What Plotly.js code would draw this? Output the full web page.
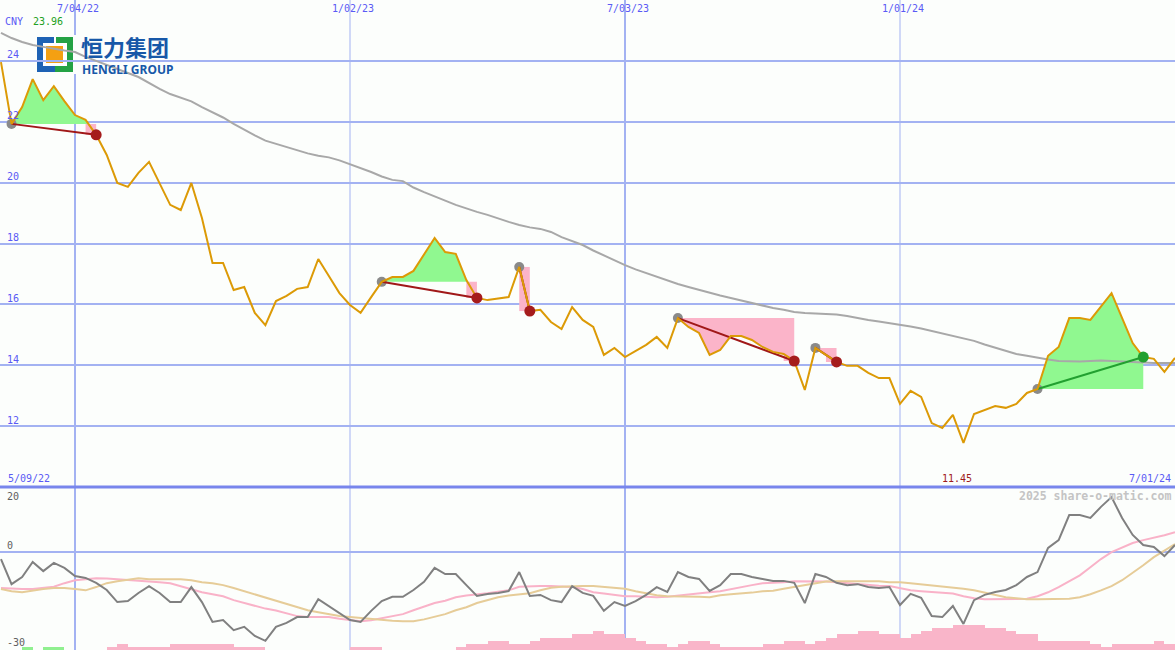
<!DOCTYPE html>
<html><head><meta charset="utf-8">
<script src="https://cdn.plot.ly/plotly-3.0.1.min.js"></script>
<style>html,body{margin:0;padding:0;background:#fcfefc;} #chart{width:1175px;height:650px;}</style>
</head><body><div id="chart"></div>
<script>
// ---------- data ----------
const currency = 'CNY';
const firstWeek = '2022-05-16';           // weekly closes, one per Monday
const prices = [23.96, 21.93, 22.48, 23.40, 22.71, 23.17, 22.68, 22.22, 22.06, 21.57,
 20.91, 19.99, 19.86, 20.32, 20.68, 19.96, 19.27, 19.10, 19.99, 18.84,
 17.36, 17.36, 16.47, 16.57, 15.72, 15.32, 16.11, 16.28, 16.51, 16.57,
 17.49, 16.93, 16.37, 15.98, 15.72, 16.24, 16.74, 16.90, 16.90, 17.10,
 17.62, 18.18, 17.72, 17.66, 16.80, 16.21, 16.14, 16.18, 16.24, 17.23,
 15.78, 15.82, 15.42, 15.19, 15.91, 15.49, 15.26, 14.34, 14.57, 14.27,
 14.47, 14.67, 14.93, 14.57, 15.55, 15.26, 15.06, 14.34, 14.50, 14.96,
 14.96, 14.83, 14.60, 14.44, 14.37, 14.14, 13.19, 14.57, 14.34, 14.11,
 13.98, 13.98, 13.75, 13.58, 13.58, 12.73, 13.16, 12.96, 12.10, 11.94,
 12.37, 11.45, 12.40, 12.53, 12.66, 12.60, 12.73, 13.09, 13.22, 14.31,
 14.60, 15.55, 15.55, 15.49, 15.95, 16.37, 15.55, 14.73, 14.27, 14.21,
 13.78, 14.24];
const movingAverage = [24.92, 24.75, 24.62, 24.52, 24.46, 24.39, 24.34, 24.29, 24.13, 24.00,
 23.86, 23.73, 23.60, 23.47, 23.27, 23.08, 22.91, 22.78, 22.67, 22.48,
 22.32, 22.14, 21.93, 21.73, 21.55, 21.38, 21.27, 21.17, 21.07, 20.96,
 20.88, 20.83, 20.73, 20.61, 20.48, 20.35, 20.20, 20.09, 20.05, 19.84,
 19.69, 19.56, 19.41, 19.27, 19.15, 19.04, 18.94, 18.82, 18.71, 18.61,
 18.53, 18.48, 18.38, 18.21, 18.08, 17.95, 17.77, 17.61, 17.44, 17.29,
 17.15, 17.03, 16.90, 16.79, 16.67, 16.57, 16.47, 16.39, 16.29, 16.21,
 16.13, 16.03, 15.95, 15.88, 15.82, 15.75, 15.72, 15.70, 15.68, 15.67,
 15.62, 15.55, 15.49, 15.44, 15.39, 15.32, 15.27, 15.21, 15.13, 15.04,
 14.96, 14.88, 14.80, 14.68, 14.57, 14.47, 14.37, 14.31, 14.24, 14.19,
 14.14, 14.12, 14.12, 14.14, 14.16, 14.14, 14.12, 14.11, 14.09, 14.07,
 14.07, 14.07];
const oscillator = [-2.1, -9.8, -7.6, -3.0, -5.8, -3.3, -4.8, -7.3, -7.9, -9.4,
 -11.6, -15.3, -15.0, -12.5, -10.4, -12.5, -15.3, -15.3, -10.7, -15.3,
 -21.4, -20.8, -23.9, -22.9, -25.7, -27.2, -22.9, -21.7, -19.9, -19.9,
 -14.4, -16.5, -18.7, -20.8, -21.4, -18.0, -15.0, -13.7, -13.7, -11.6,
 -9.1, -4.8, -6.7, -6.7, -10.1, -13.4, -12.8, -12.5, -11.9, -6.1,
 -13.4, -13.1, -14.7, -15.3, -10.4, -12.5, -13.4, -18.0, -15.3, -16.5,
 -15.0, -13.1, -10.7, -12.2, -6.1, -7.6, -8.2, -11.9, -10.1, -6.7,
 -6.7, -7.6, -8.2, -8.8, -8.8, -9.4, -15.6, -6.7, -7.6, -9.4,
 -10.1, -9.8, -10.7, -11.0, -10.7, -16.2, -12.8, -14.0, -19.6, -19.9,
 -16.5, -22.0, -14.7, -13.1, -12.2, -11.6, -10.1, -7.6, -6.1, 1.3,
 3.7, 11.4, 11.4, 10.5, 13.9, 16.9, 10.5, 5.3, 2.2, 1.6,
 -1.2, 2.2];
const oscFast = [-11.0, -11.2, -11.3, -11.3, -11.0, -10.6, -9.5, -8.6, -8.3, -8.0,
 -8.1, -8.3, -8.6, -8.6, -8.9, -9.2, -9.5, -10.4, -11.3, -12.3,
 -12.9, -13.5, -14.7, -15.6, -16.6, -17.3, -17.9, -18.7, -19.6, -19.9,
 -19.9, -19.9, -20.4, -20.9, -21.2, -20.9, -20.2, -19.6, -19.0, -17.8,
 -16.7, -15.6, -14.9, -13.8, -13.3, -13.0, -12.6, -12.1, -11.7, -10.6,
 -10.4, -10.4, -10.4, -10.6, -10.7, -11.3, -12.3, -12.7, -13.2, -13.5,
 -13.5, -13.7, -13.8, -13.7, -13.3, -13.0, -12.6, -12.3, -12.0, -11.3,
 -10.7, -10.1, -9.5, -9.4, -9.2, -8.9, -8.9, -8.9, -9.0, -9.2,
 -9.5, -9.8, -10.1, -10.3, -10.4, -11.0, -11.7, -12.0, -12.3, -12.4,
 -12.7, -13.5, -14.1, -14.4, -14.4, -14.4, -14.4, -14.3, -13.5, -12.3,
 -10.7, -8.9, -7.1, -4.6, -2.1, 0.0, 1.5, 2.8, 3.7, 4.4,
 5.2, 6.1];
const oscSlow = [-11.3, -12.0, -12.3, -11.7, -11.3, -11.0, -11.0, -11.3, -11.7, -10.7,
 -9.5, -8.9, -8.4, -8.0, -8.3, -8.3, -8.3, -8.3, -8.6, -9.2,
 -9.5, -10.1, -11.0, -12.0, -12.9, -13.8, -14.9, -16.0, -16.9, -17.8,
 -18.4, -19.0, -19.6, -19.9, -20.2, -20.6, -20.7, -21.0, -21.2, -21.2,
 -20.6, -19.9, -19.0, -17.8, -16.9, -15.6, -14.6, -13.8, -13.3, -13.0,
 -12.6, -11.7, -10.9, -10.6, -10.4, -10.4, -10.4, -10.6, -10.9, -11.2,
 -12.0, -12.7, -13.2, -13.5, -13.5, -13.5, -13.7, -13.8, -13.2, -12.9,
 -12.7, -12.4, -12.0, -11.8, -11.2, -10.6, -10.0, -9.4, -9.0, -8.9,
 -8.9, -8.9, -8.9, -8.9, -9.2, -9.2, -9.5, -9.8, -10.1, -10.4,
 -10.7, -11.2, -11.7, -12.4, -13.2, -13.8, -14.1, -14.4, -14.4, -14.4,
 -14.4, -14.3, -13.8, -12.9, -11.7, -10.4, -8.6, -6.4, -4.0, -1.5,
 0.6, 2.5];
const volume = [0,0,1,0,1,1,0,0,0,0, 1,2,1,1,1,1,2,2,2,2, 2,2,1,1,1,0,0,0,0,0,
 0,0,0,1,1,1,0,0,0,0, 0,0,0,1,2,2,3,3,2,2, 3,4,4,4,5,5,6,5,5,4,
 3,2,2,1,2,3,3,2,1,1, 1,1,2,2,3,3,2,3,4,5, 5,6,6,5,5,4,5,6,7,7,
 8,8,8,7,7,6,5,5,3,3, 3,3,3,2,1,2,2,2,2,3, 2,0];
const greenVolumeWeeks = [2, 4, 5];
// trades: [entry week index, exit week index]
const trades = [[1,9],[36,45],[49,50],[64,75],[77,79],[98,108]];
const tickDates = ['2022-07-04','2023-01-02','2023-07-03','2024-01-01'];
const tickLabels = ['7/04/22','1/02/23','7/03/23','1/01/24'];
const tickWidths = [2,1,2,1];
const periodStart = '5/09/22', periodEnd = '7/01/24';
const priceTicks = [12,14,16,18,20,22,24];
const oscTicks = [20,0,-30];

// ---------- helpers ----------
const WEEK = 7*864e5;
const base = Date.parse(firstWeek + 'T00:00:00Z');
function fmt(ms){const d=new Date(ms);const p=n=>String(n).padStart(2,'0');
 return d.getUTCFullYear()+'-'+p(d.getUTCMonth()+1)+'-'+p(d.getUTCDate())+' '+p(d.getUTCHours())+':'+p(d.getUTCMinutes())+':'+p(d.getUTCSeconds());}
const tms = k => base + k*WEEK;
const dates = prices.map((_,k)=>fmt(tms(k)));

const W=1175,H=650, split=487;
const px = x=>x/W, py = y=>1-y/H;
const mainDom=[1-split/H,1];
const xRange=['2022-05-15 08:40:00','2024-07-01 00:00:00'];
const yRange=[10,26];
const x0ms=Date.parse(xRange[0].replace(' ','T')+'Z'), x1ms=Date.parse(xRange[1].replace(' ','T')+'Z');
const pxDate = x=>fmt(x0ms+(x1ms-x0ms)*x/W);
const pxPrice = y=>yRange[1]-(yRange[1]-yRange[0])*y/split;

const BLUE='#5a5af5', GRID='#a3b2f2', ORANGE='#dc9a06';
const traces=[];

// volume bars (bottom)
traces.push({type:'bar', x:dates, y:volume, xaxis:'x', yaxis:'y3', offset:0, width:WEEK,
  marker:{color:volume.map((v,k)=>greenVolumeWeeks.includes(k)?'#90f090':'#f9b5c9'), line:{width:0}},
  hoverinfo:'skip', showlegend:false});
// oscillator panel
traces.push({x:dates,y:oscFast,yaxis:'y2',mode:'lines',line:{color:'#f9b2c8',width:2},hoverinfo:'skip'});
traces.push({x:dates,y:oscSlow,yaxis:'y2',mode:'lines',line:{color:'#e6cc98',width:2},hoverinfo:'skip'});
traces.push({x:dates,y:oscillator,yaxis:'y2',mode:'lines',line:{color:'#808080',width:2},hoverinfo:'skip'});

// trade fills
trades.forEach(([s,e])=>{
  const L=prices[s];
  const gx=[tms(s)],gy=[L],qx=[tms(s)],qy=[L];
  for(let k=s;k<=e;k++){
    if(k>s){const a=prices[k-1]-L,b=prices[k]-L;
      if(a*b<0){const t=a/(a-b);const xm=tms(k-1)+t*WEEK;gx.push(xm);gy.push(L);if(k<e||prices[e]>=L){qx.push(xm);qy.push(L);}}}
    gx.push(tms(k));gy.push(Math.max(prices[k],L));
    if(k<e || prices[e]>=L){qx.push(tms(k));qy.push(Math.min(prices[k],L));}
  }
  if(prices[e]<L){const pe=prices[e];qx.push(tms(e-1));qy.push(pe);qx.push(tms(e));qy.push(pe);}
  gx.push(tms(e));gy.push(L);qx.push(tms(e));qy.push(L);
  traces.push({x:gx.map(fmt),y:gy,mode:'lines',line:{width:0,color:'rgba(0,0,0,0)'},fill:'toself',fillcolor:'#90f890',hoverinfo:'skip'});
  traces.push({x:qx.map(fmt),y:qy,mode:'lines',line:{width:0,color:'rgba(0,0,0,0)'},fill:'toself',fillcolor:'#fbb4c9',hoverinfo:'skip'});
});
// moving average
traces.push({x:dates,y:movingAverage,mode:'lines',line:{color:'#a8a8a8',width:2},hoverinfo:'skip'});
// entry dots
traces.push({x:trades.map(t=>dates[t[0]]),y:trades.map(t=>prices[t[0]]),mode:'markers',marker:{color:'#8a8a8a',size:10},hoverinfo:'skip'});
// trade lines
trades.forEach(([s,e])=>{
  const win=prices[e]>prices[s];
  traces.push({x:[dates[s],dates[e]],y:[prices[s],prices[e]],mode:'lines',line:{color:win?'#22a030':'#a01818',width:2},hoverinfo:'skip'});
});
// price line
traces.push({x:dates,y:prices,mode:'lines',line:{color:ORANGE,width:2},hoverinfo:'skip'});
// exit dots
traces.push({x:trades.map(t=>dates[t[1]]),y:trades.map(t=>prices[t[1]]),mode:'markers',
  marker:{color:trades.map(t=>prices[t[1]]>prices[t[0]]?'#22a030':'#a51c1c'),size:11},hoverinfo:'skip'});

// ---------- shapes ----------
const shapes=[];
tickDates.forEach((d,i)=>shapes.push({type:'line',xref:'x',yref:'paper',x0:d,x1:d,y0:0,y1:1,line:{color:GRID,width:tickWidths[i]},layer:'below'}));
shapes.push({type:'line',xref:'paper',yref:'paper',x0:0,x1:1,y0:py(split),y1:py(split),line:{color:'#7886ec',width:3}});
// logo (subplot shapes, below the traces)
const rect=(x0,y0,x1,y1,c)=>({type:'rect',xref:'x',yref:'y',x0:pxDate(x0),x1:pxDate(x1),y0:pxPrice(y1),y1:pxPrice(y0),fillcolor:c,line:{width:0},layer:'below'});
shapes.push(rect(35,35,190,74,'#fcfefc'));
shapes.push(rect(37,37,55,72,'#1e62b4'));
shapes.push(rect(55,37,73,72,'#24a244'));
shapes.push(rect(43,43,67,66,'#ffffff'));
shapes.push(rect(54,37,56,43,'#ffffff'));
shapes.push(rect(46,46,63,63,'#f4a012'));

// ---------- annotations ----------
const F = (c,s)=>({family:'DejaVu Sans Mono, monospace',size:s||10,color:c});
const ann=[];
tickDates.forEach((d,i)=>ann.push({x:d,xref:'x',y:1,yref:'paper',yanchor:'middle',xanchor:'center',yshift:-8,xshift:3,text:tickLabels[i],showarrow:false,font:F(BLUE)}));
ann.push({x:0,xref:'paper',xanchor:'left',xshift:3,y:1,yref:'paper',yanchor:'middle',yshift:-21,text:currency,showarrow:false,font:F(BLUE)});
ann.push({x:0,xref:'paper',xanchor:'left',xshift:31,y:1,yref:'paper',yanchor:'middle',yshift:-21,text:Math.max(...prices).toFixed(2),showarrow:false,font:F('#22a022')});
priceTicks.forEach(v=>ann.push({x:0,xref:'paper',xanchor:'left',xshift:5,y:v,yref:'y',yanchor:'middle',yshift:6,text:String(v),showarrow:false,font:F(BLUE)}));
ann.push({x:0,xref:'paper',xanchor:'left',xshift:5,y:20,yref:'y2',yanchor:'middle',yshift:-9,text:String(oscTicks[0]),showarrow:false,font:F('#606060')});
ann.push({x:0,xref:'paper',xanchor:'left',xshift:5,y:0,yref:'y2',yanchor:'middle',yshift:7,text:String(oscTicks[1]),showarrow:false,font:F('#606060')});
ann.push({x:0,xref:'paper',xanchor:'left',xshift:5,y:-30,yref:'y2',yanchor:'middle',yshift:8,text:String(oscTicks[2]),showarrow:false,font:F('#606060')});
ann.push({x:0,xref:'paper',xanchor:'left',xshift:6,y:py(split),yref:'paper',yanchor:'middle',yshift:9,text:periodStart,showarrow:false,font:F(BLUE)});
ann.push({x:1,xref:'paper',xanchor:'right',xshift:-2,y:py(split),yref:'paper',yanchor:'middle',yshift:9,text:periodEnd,showarrow:false,font:F(BLUE)});
const minIdx = prices.indexOf(Math.min(...prices));
ann.push({x:dates[minIdx],xref:'x',xanchor:'center',xshift:-6,y:py(split),yref:'paper',yanchor:'middle',yshift:9,text:prices[minIdx].toFixed(2),showarrow:false,font:F('#a01c1c')});
ann.push({x:1,xref:'paper',xanchor:'right',xshift:-2,y:py(split),yref:'paper',yanchor:'middle',yshift:-9,text:'<b>2025 share-o-matic.com</b>',showarrow:false,font:F('#c4c4c4',11.5)});
ann.push({x:px(80),xref:'paper',xanchor:'left',y:py(46),yref:'paper',yanchor:'middle',text:'<b>恒力集团</b>',showarrow:false,borderpad:0,font:{family:'Noto Sans CJK SC',size:22,color:'#1758a8'}});
ann.push({x:px(81),xref:'paper',xanchor:'left',y:py(69.5),yref:'paper',yanchor:'middle',text:'<b>HENGLI GROUP</b>',showarrow:false,borderpad:0,font:{family:'Noto Sans',size:12,color:'#1758a8'}});

const layout={width:W,height:H,margin:{l:0,r:0,t:0,b:0},paper_bgcolor:'#fcfefc',plot_bgcolor:'#fcfefc',
 showlegend:false,hovermode:false,bargap:0,
 xaxis:{type:'date',range:xRange,showgrid:false,zeroline:false,showticklabels:false,ticks:'',fixedrange:true},
 yaxis:{domain:mainDom,range:yRange,tickvals:priceTicks,showgrid:true,gridcolor:GRID,gridwidth:2,zeroline:false,showticklabels:false,ticks:'',fixedrange:true},
 yaxis2:{domain:[0,1-split/H],range:[-30,20],tickvals:[0],showgrid:true,gridcolor:GRID,gridwidth:2,zeroline:false,showticklabels:false,ticks:'',fixedrange:true},
 yaxis3:{overlaying:'y2',range:[0,52.5],visible:false,fixedrange:true},
 shapes:shapes,annotations:ann};
Plotly.newPlot('chart',traces,layout,{staticPlot:true,displayModeBar:false});
</script></body></html>
